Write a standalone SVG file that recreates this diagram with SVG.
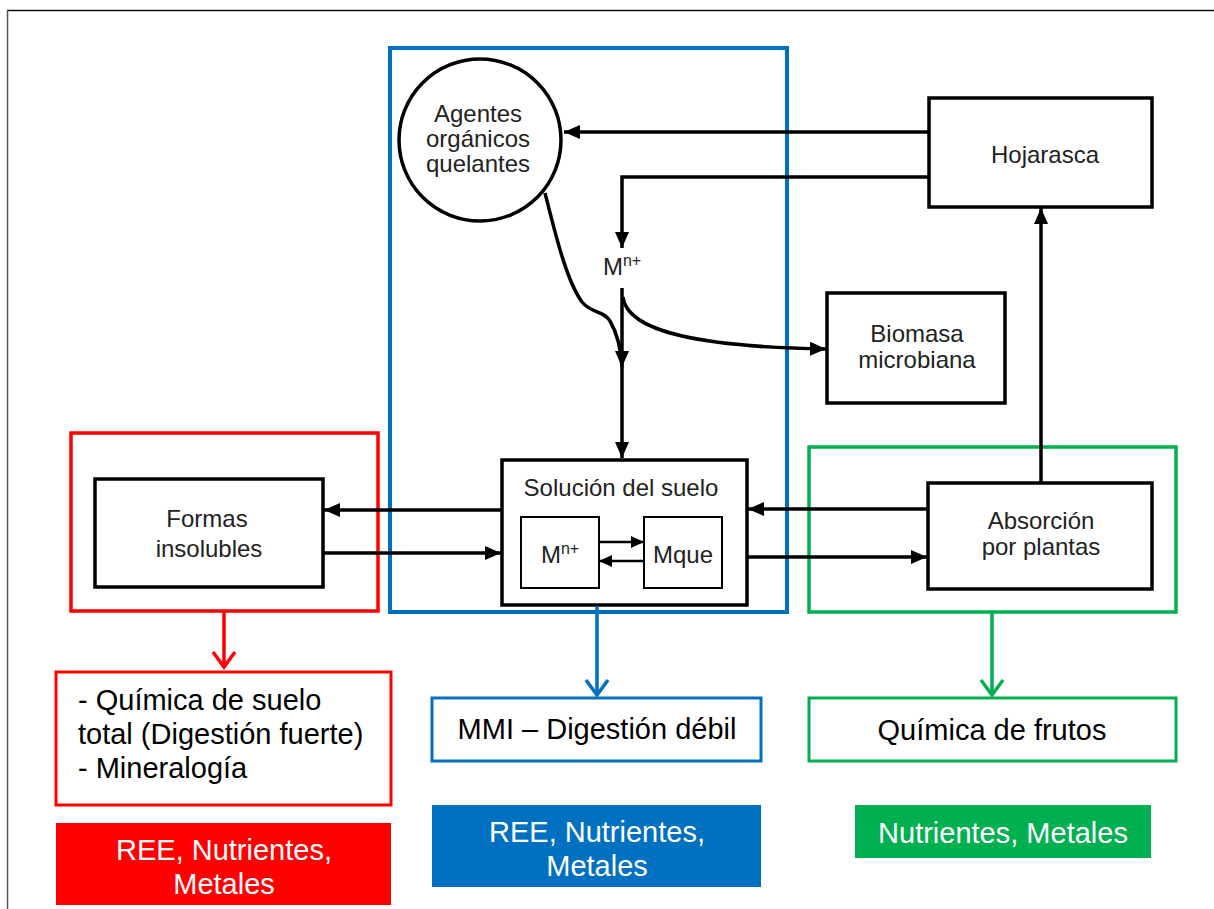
<svg xmlns="http://www.w3.org/2000/svg" width="1214" height="909" viewBox="0 0 1214 909">
<defs>
<style>
.node{fill:#fff;stroke:#000;stroke-width:3.5}
.inner{fill:#fff;stroke:#000;stroke-width:2}
.lbl{font-family:"Liberation Sans",Arial,sans-serif;font-size:24px;fill:#222;text-anchor:middle}
.big{font-family:"Liberation Sans",Arial,sans-serif;font-size:29px;fill:#000}
.wt{font-family:"Liberation Sans",Arial,sans-serif;font-size:29px;fill:#fff;text-anchor:middle}
.con{fill:none;stroke:#000;stroke-width:3.5}
.con2{fill:none;stroke:#000;stroke-width:2.5}
</style>
<marker id="ah" markerUnits="userSpaceOnUse" markerWidth="16" markerHeight="14" refX="16" refY="7" orient="auto">
<path d="M0,0 L16,7 L0,14 z" fill="#000"/>
</marker>
<marker id="ahs" markerUnits="userSpaceOnUse" markerWidth="13" markerHeight="12" refX="13" refY="6" orient="auto">
<path d="M0,0 L13,6 L0,12 z" fill="#000"/>
</marker>
</defs>
<rect width="1214" height="909" fill="#fff"/>
<g id="frame">
<line x1="7" y1="10.5" x2="1214" y2="10.5" stroke="#111" stroke-width="1.5"/>
<line x1="7.5" y1="10" x2="7.5" y2="909" stroke="#555" stroke-width="1.5"/>
</g>

<g id="groups">
<rect id="blue-group" x="390" y="48" width="397" height="564" fill="none" stroke="#0070C0" stroke-width="4"/>
<rect id="red-group" x="71" y="433" width="307" height="178" fill="none" stroke="#FF0000" stroke-width="3.5"/>
<rect id="green-group" x="809" y="447" width="367" height="165" fill="none" stroke="#00B050" stroke-width="3.5"/>
</g>

<g id="agentes">
<circle cx="480" cy="140" r="81" fill="#fff" stroke="#000" stroke-width="3.5"/>
<text class="lbl" x="478" y="122">Agentes</text>
<text class="lbl" x="478" y="147">orgánicos</text>
<text class="lbl" x="478" y="172">quelantes</text>
</g>

<g id="mn-label">
<text class="lbl" x="622" y="275"><tspan>M</tspan><tspan font-size="16" dy="-9">n+</tspan></text>
</g>

<g id="hojarasca">
<rect class="node" x="929" y="98" width="223" height="109"/>
<text class="lbl" x="1045" y="163">Hojarasca</text>
</g>

<g id="biomasa">
<rect class="node" x="827" y="293" width="178" height="110"/>
<text class="lbl" x="917" y="342">Biomasa</text>
<text class="lbl" x="917" y="368">microbiana</text>
</g>

<g id="formas">
<rect class="node" x="95" y="479" width="228" height="108"/>
<text class="lbl" x="207" y="527">Formas</text>
<text class="lbl" x="209" y="557">insolubles</text>
</g>

<g id="solucion">
<rect class="node" x="502" y="460" width="245" height="145"/>
<text class="lbl" x="621" y="496">Solución del suelo</text>
<rect class="inner" x="521" y="517" width="78" height="71"/>
<text class="lbl" x="560" y="563"><tspan>M</tspan><tspan font-size="16" dy="-9">n+</tspan></text>
<rect class="inner" x="644" y="517" width="78" height="71"/>
<text class="lbl" x="683" y="563">Mque</text>
</g>

<g id="absorcion">
<rect class="node" x="928" y="483" width="224" height="106"/>
<text class="lbl" x="1041" y="529">Absorción</text>
<text class="lbl" x="1041" y="555">por plantas</text>
</g>

<g id="red-method">
<rect x="56" y="672" width="335" height="133" fill="#fff" stroke="#FF0000" stroke-width="3"/>
<text class="big" x="78" y="710">- Química de suelo</text>
<text class="big" x="78" y="744">total (Digestión fuerte)</text>
<text class="big" x="78" y="778">- Mineralogía</text>
</g>

<g id="blue-method">
<rect x="432" y="698" width="329" height="63" fill="#fff" stroke="#0070C0" stroke-width="3"/>
<text class="big" x="597" y="739" text-anchor="middle">MMI – Digestión débil</text>
</g>

<g id="green-method">
<rect x="809" y="698" width="367" height="63" fill="#fff" stroke="#00B050" stroke-width="3"/>
<text class="big" x="992" y="740" text-anchor="middle">Química de frutos</text>
</g>

<g id="red-result">
<rect x="56" y="823" width="335" height="82" fill="#FF0000"/>
<text class="wt" x="224" y="860">REE, Nutrientes,</text>
<text class="wt" x="224" y="894">Metales</text>
</g>

<g id="blue-result">
<rect x="432" y="805" width="329" height="82" fill="#0070C0"/>
<text class="wt" x="597" y="842">REE, Nutrientes,</text>
<text class="wt" x="597" y="876">Metales</text>
</g>

<g id="green-result">
<rect x="855" y="805" width="296" height="53" fill="#00B050"/>
<text class="wt" x="1003" y="843">Nutrientes, Metales</text>
</g>

<g id="connectors">
<path class="con" d="M928,132 L564,132" marker-end="url(#ah)"/>
<path class="con" d="M928,177 L622,177 L622,248" marker-end="url(#ah)"/>
<path class="con" d="M545,193 C555,232 566,280 582,302 C592,314 603,310 610,321 C617,333 621,348 622,367"/>
<path class="con" d="M622,288 L622,367" marker-end="url(#ah)"/>
<path class="con" d="M622,367 L622,458" marker-end="url(#ah)"/>
<path class="con" d="M623,297 C627,332 700,347 826,349" marker-end="url(#ah)"/>
<path class="con" d="M1041,483 L1041,208" marker-end="url(#ah)"/>
<path class="con" d="M502,510 L324,510" marker-end="url(#ah)"/>
<path class="con" d="M323,553 L501,553" marker-end="url(#ah)"/>
<path class="con" d="M928,509 L748,509" marker-end="url(#ah)"/>
<path class="con" d="M747,557 L927,557" marker-end="url(#ah)"/>
<path class="con2" d="M600,542 L644,542" marker-end="url(#ahs)"/>
<path class="con2" d="M643,561 L599,561" marker-end="url(#ahs)"/>
<g fill="none" stroke="#FF0000" stroke-width="3.5">
<line x1="224" y1="612" x2="224" y2="667"/>
<polyline points="213,652 224,667 235,652"/>
</g>
<g fill="none" stroke="#0070C0" stroke-width="3.5">
<line x1="597" y1="606" x2="597" y2="695"/>
<polyline points="586,680 597,695 608,680"/>
</g>
<g fill="none" stroke="#00B050" stroke-width="3.5">
<line x1="992" y1="613" x2="992" y2="695"/>
<polyline points="981,680 992,695 1003,680"/>
</g>
</g>
</svg>
